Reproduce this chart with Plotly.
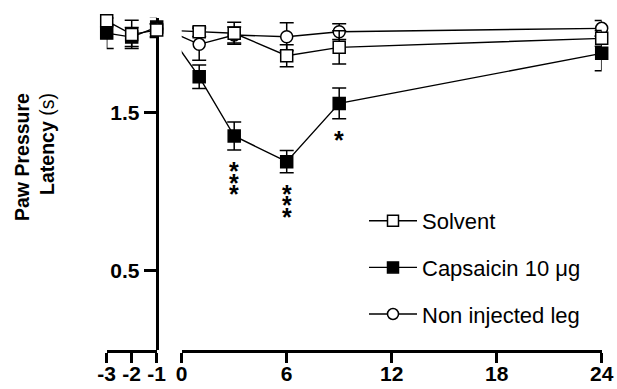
import plotly.graph_objects as go

# ---------------- data ----------------
pre_times = [-3, -2, -1]
post_times = [1, 3, 6, 9, 24]

solvent_pre = [2.08, 1.994, 2.021]
solvent_pre_err = [0.03, 0.09, 0.04]
solvent_post = [2.011, 2.001, 1.859, 1.912, 1.969]
solvent_post_err = [0.03, 0.07, 0.07, 0.105, 0.05]

caps_pre = [2.002, 1.977, 2.04]
caps_pre_err = [0.097, 0.06, 0.065]
caps_post = [1.726, 1.352, 1.19, 1.558, 1.874]
caps_post_err = [0.074, 0.088, 0.07, 0.097, 0.11]

nil_pre = [None, None, 2.03]
nil_pre_err = [0, 0, 0.03]
nil_post = [1.931, 1.99, 1.979, 2.011, 2.032]
nil_post_err = [0.1, 0.05, 0.088, 0.05, 0.05]

caps_sig = ['', '***', '***', '*', '']

x_pre_ticks = [-3, -2, -1]
x_pre_ticktext = ['-3', '-2', '-1']
x_post_ticks = [0, 6, 12, 18, 24]
y_ticks = [0.5, 1.5]
y_ticktext = ['0.5', '1.5']

names = ['Solvent', 'Capsaicin 10 μg', 'Non injected leg']

# ---------------- figure ----------------
W, H = 617, 389
FONT = 'Arial, Liberation Sans, sans-serif'

series = [
    (names[1], caps_pre, caps_pre_err, caps_post, caps_post_err, 'square', 'black'),
    (names[2], nil_pre, nil_pre_err, nil_post, nil_post_err, 'circle', 'white'),
    (names[0], solvent_pre, solvent_pre_err, solvent_post, solvent_post_err, 'square', 'white'),
]

fig = go.Figure()
LW = 1.4

for name, pre, pre_e, post, post_e, sym, fill in series:
    fig.add_trace(go.Scatter(x=pre_times, y=pre, mode='lines', xaxis='x', yaxis='y',
                             line=dict(color='black', width=LW), showlegend=False,
                             hoverinfo='skip', cliponaxis=True))
    fig.add_trace(go.Scatter(x=[pre_times[-1]] + post_times, y=[pre[-1]] + post, mode='lines',
                             xaxis='x2', yaxis='y', line=dict(color='black', width=LW),
                             showlegend=False, hoverinfo='skip', cliponaxis=True))

for name, pre, pre_e, post, post_e, sym, fill in series:
    mk = dict(symbol=sym, size=12, color=fill, line=dict(color='black', width=1.5))
    eb = dict(type='data', visible=True, color='black', thickness=1.5, width=7)
    fig.add_trace(go.Scatter(x=pre_times, y=pre, mode='markers', xaxis='x', yaxis='y',
                             marker=mk, error_y=dict(array=pre_e, **eb),
                             showlegend=False, cliponaxis=False))
    fig.add_trace(go.Scatter(x=post_times, y=post, mode='markers', xaxis='x2', yaxis='y',
                             marker=mk, error_y=dict(array=post_e, **eb),
                             showlegend=False, cliponaxis=False))

leg_style = {
    names[0]: ('square', 'white'),
    names[1]: ('square', 'black'),
    names[2]: ('circle', 'white'),
}
for i, nm in enumerate(names):
    sym, fill = leg_style[nm]
    fig.add_trace(go.Scatter(x=[None], y=[None], mode='lines+markers', name=nm,
                             xaxis='x2', yaxis='y', legendgroup='g%d' % i,
                             line=dict(color='black', width=LW),
                             marker=dict(symbol=sym, size=11, color=fill,
                                         line=dict(color='black', width=1.5))))

annotations = []
for t, v, e, s in zip(post_times, caps_post, caps_post_err, caps_sig):
    for k in range(len(s)):
        annotations.append(dict(x=t, y=v - e, xref='x2', yref='y', text='<b>*</b>',
                                showarrow=False,
                                font=dict(family=FONT, size=25, color='black'),
                                yshift=-(15.5 + 5.5 + 11.7 * k)))

annotations.append(dict(
    x=34.5 / W, y=1 - 157.5 / H, xref='paper', yref='paper',
    text='<b>Paw Pressure</b><br><b>Latency</b> (s)', textangle=-90,
    showarrow=False, align='right', xanchor='center', yanchor='middle',
    font=dict(family=FONT, size=19.5, color='black')))

xaxis_common = dict(showline=True, linewidth=3, linecolor='black', ticks='outside',
                    ticklen=10, tickwidth=3, tickcolor='black', showgrid=False,
                    zeroline=False, anchor='y', automargin=False, ticklabelstandoff=-7,
                    tickfont=dict(family=FONT, size=21, color='black', weight='bold'))

fig.update_layout(
    template='none',
    width=W, height=H,
    margin=dict(l=0, r=0, t=0, b=0, autoexpand=False),
    paper_bgcolor='white', plot_bgcolor='white',
    font=dict(family=FONT, color='black'),
    xaxis=dict(domain=[106.7 / W, 156.7 / W], range=[-3, -1], tickvals=x_pre_ticks,
               ticktext=x_pre_ticktext, **xaxis_common),
    xaxis2=dict(domain=[181.7 / W, 601.7 / W], range=[0, 24], tickvals=x_post_ticks,
                ticktext=[str(v) for v in x_post_ticks], **xaxis_common),
    yaxis=dict(domain=[(H - 350) / H, (H - 17.6) / H], range=[0, 2.1], anchor='free',
               position=156.7 / W, side='left', showline=True, linewidth=3,
               linecolor='black', ticks='outside', ticklen=12, tickwidth=3,
               tickcolor='black', tickvals=y_ticks, ticktext=y_ticktext,
               showgrid=False, zeroline=False, layer='below traces', automargin=False,
               tickfont=dict(family=FONT, size=21, color='black', weight='bold')),
    showlegend=True,
    legend=dict(x=364 / W, y=1 - 200 / H, xanchor='left', yanchor='top',
                bgcolor='rgba(0,0,0,0)', borderwidth=0, itemwidth=48,
                tracegroupgap=15, traceorder='grouped',
                font=dict(family=FONT, size=22, color='black')),
    annotations=annotations,
)

fig.write_html('out.html', config={'displayModeBar': False},
               post_script="document.body.style.margin='0px';document.body.style.padding='0px';")
